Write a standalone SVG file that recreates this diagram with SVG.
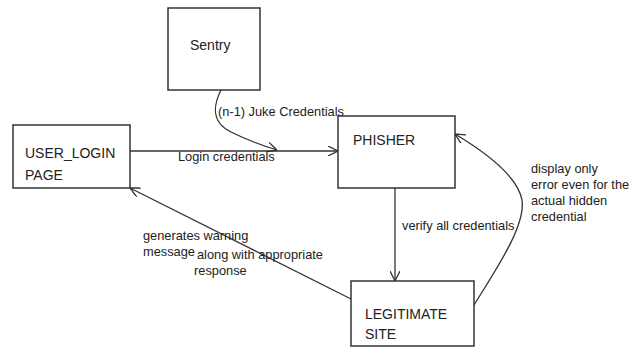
<svg xmlns="http://www.w3.org/2000/svg" width="639" height="349" viewBox="0 0 639 349">
<style>
.box{fill:#fff;stroke:#333;stroke-width:1.5}
.node{font-family:"Liberation Sans",Arial,sans-serif;font-size:14px;fill:#222}
.lbl{font-family:"Liberation Sans",Arial,sans-serif;font-size:12.8px;fill:#222}
.edge{fill:none;stroke:#333;stroke-width:1.3}
</style>
<defs>
<marker id="arr" viewBox="0 0 10 10" refX="10" refY="5" markerWidth="10" markerHeight="10" markerUnits="userSpaceOnUse" orient="auto">
<polyline points="0,0 10,5 0,10" fill="none" stroke="#333" stroke-width="1.3"/>
</marker>
</defs>
<rect width="639" height="349" fill="#fff"/>
<g id="connectors">
<path class="edge" d="M130,151 L338,151" marker-end="url(#arr)"/>
<path class="edge" d="M221,90 C213,106 211,122 231,132 C249,141 264,146 277,150" marker-end="url(#arr)"/>
<path class="edge" d="M395,188 L395,281" marker-end="url(#arr)"/>
<path class="edge" d="M474,305 C497,268 526,225 522,200 C518,178 490,155 455,134" marker-end="url(#arr)"/>
<path class="edge" d="M351,299 L130,188" marker-end="url(#arr)"/>
<text class="lbl" x="218" y="116">(n-1) Juke Credentials</text>
<text class="lbl" x="178" y="161">Login credentials</text>
<text class="lbl" x="402" y="230">verify all credentials</text>
<text class="lbl" x="531" y="173">display only</text>
<text class="lbl" x="531" y="189">error even for the</text>
<text class="lbl" x="531" y="205">actual hidden</text>
<text class="lbl" x="531" y="221">credential</text>
<text class="lbl" x="143" y="240">generates warning</text>
<text class="lbl" x="143" y="256">message</text>
<text class="lbl" x="197" y="259">along with appropriate</text>
<text class="lbl" x="194" y="275">response</text>
</g>
<g id="sentry">
<rect class="box" x="168" y="8" width="92" height="82"/>
<text class="node" x="190" y="50">Sentry</text>
</g>
<g id="user_login">
<rect class="box" x="13" y="125" width="117" height="63"/>
<text class="node" x="25" y="158">USER_LOGIN</text>
<text class="node" x="25" y="180">PAGE</text>
</g>
<g id="phisher">
<rect class="box" x="338" y="116" width="117" height="72"/>
<text class="node" x="353" y="145">PHISHER</text>
</g>
<g id="legitimate">
<rect class="box" x="351" y="281" width="123" height="65"/>
<text class="node" x="365" y="319">LEGITIMATE</text>
<text class="node" x="365" y="339">SITE</text>
</g>
</svg>
